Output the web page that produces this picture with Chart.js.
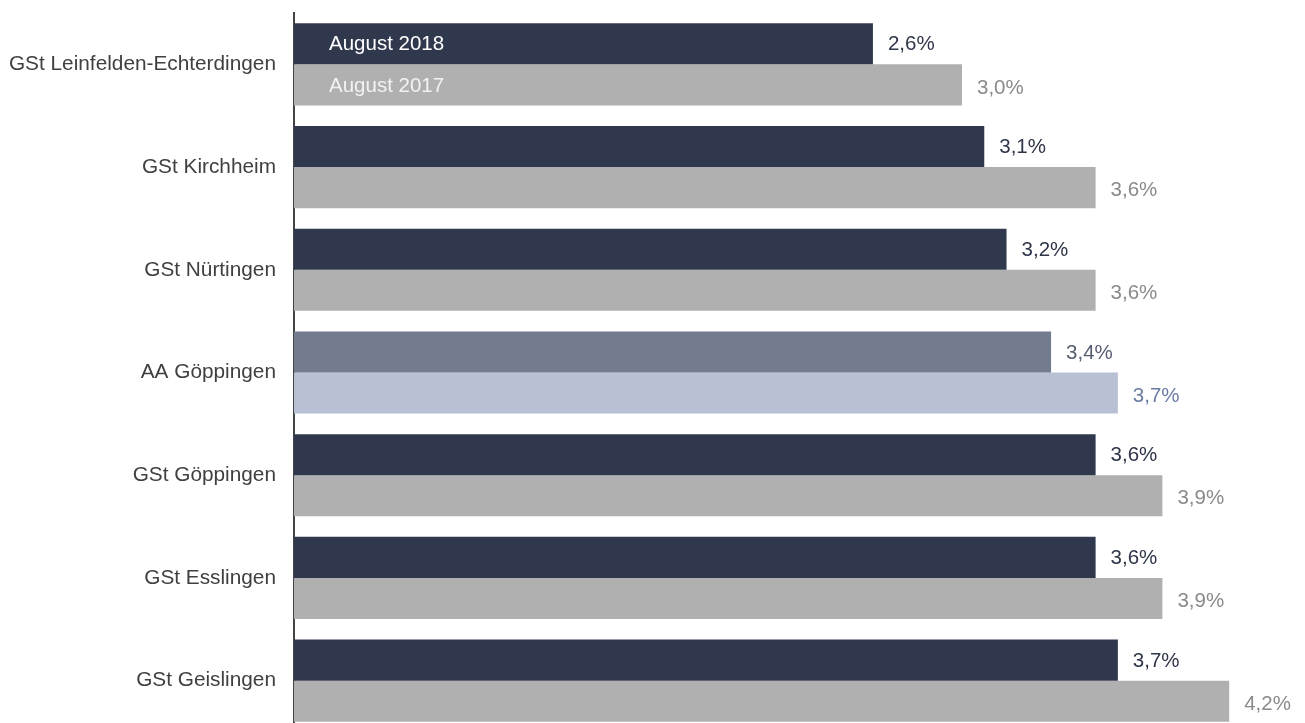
<!DOCTYPE html>
<html>
<head>
<meta charset="utf-8">
<script src="https://cdn.jsdelivr.net/npm/chart.js@4.4.0/dist/chart.umd.min.js"></script>
<style>
  html, body { margin: 0; padding: 0; background: #fff; overflow: hidden; }
  #wrap { width: 1305px; height: 732px; }
</style>
</head>
<body>
<div id="wrap"><canvas id="chart"></canvas></div>
<script>
const categories = ["GSt Leinfelden-Echterdingen", "GSt Kirchheim", "GSt Nürtingen", "AA Göppingen", "GSt Göppingen", "GSt Esslingen", "GSt Geislingen"];
const seriesNames = ["August 2018", "August 2017"];
const values2018 = [2.6, 3.1, 3.2, 3.4, 3.6, 3.6, 3.7];
const values2017 = [3.0, 3.6, 3.6, 3.7, 3.9, 3.9, 4.2];

const highlight = "AA Göppingen";
const isHi = categories.map(c => c === highlight);

const dark = isHi.map(h => h ? "#737b8f" : "#30384e");
const grey = isHi.map(h => h ? "#b8c0d4" : "#b0b0b0");
const darkLabel = isHi.map(h => h ? "#555d70" : "#2e3548");
const greyLabel = isHi.map(h => h ? "#6b7ca3" : "#8a8a8a");

const fontFamily = "'Liberation Sans', Arial, sans-serif";

// value labels right of each bar + series names inside the first pair of bars
const barLabels = {
  id: "barLabels",
  afterDatasetsDraw(chart) {
    const ctx = chart.ctx;
    ctx.save();
    ctx.font = "20.5px " + fontFamily;
    ctx.textBaseline = "middle";
    chart.data.datasets.forEach((ds, di) => {
      const meta = chart.getDatasetMeta(di);
      meta.data.forEach((bar, i) => {
        const txt = ds.data[i].toFixed(1).replace(".", ",") + "%";
        ctx.textAlign = "left";
        ctx.fillStyle = di === 0 ? darkLabel[i] : greyLabel[i];
        ctx.fillText(txt, bar.x + 15, bar.y + (di === 0 ? 1 : 3));
        if (i === 0) {
          ctx.fillStyle = di === 0 ? "#ffffff" : "#f2f2f2";
          ctx.fillText(ds.label, bar.base + 35, bar.y + 1);
        }
      });
    });
    ctx.restore();
  }
};

new Chart(document.getElementById("chart"), {
  type: "bar",
  data: {
    labels: categories,
    datasets: [
      { label: seriesNames[0], data: values2018, backgroundColor: dark },
      { label: seriesNames[1], data: values2017, backgroundColor: grey }
    ]
  },
  options: {
    indexAxis: "y",
    responsive: true,
    maintainAspectRatio: false,
    animation: false,
    layout: { padding: { top: 13, right: 9, bottom: 0, left: 0 } },
    datasets: { bar: { categoryPercentage: 0.8, barPercentage: 1.0 } },
    plugins: { legend: { display: false }, tooltip: { enabled: false } },
    scales: {
      x: { display: false, min: 0, max: 4.5 },
      y: {
        grid: { display: false, drawTicks: false },
        border: { display: true, color: "#444", width: 2 },
        ticks: { color: "#404040", padding: 18, font: { family: fontFamily, size: 20.8 } },
        afterFit(scale) {
          scale.width = 294;
          scale.paddingTop = 0;
          scale.paddingBottom = 0;
        }
      }
    }
  },
  plugins: [barLabels]
});
</script>
</body>
</html>
